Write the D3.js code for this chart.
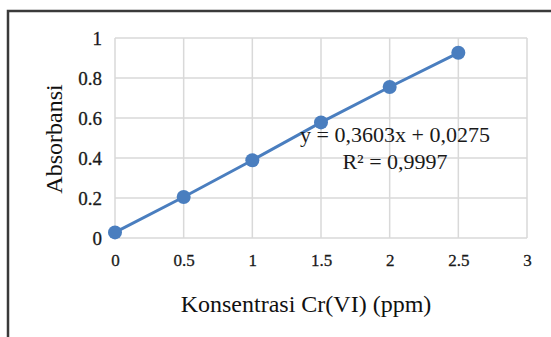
<!DOCTYPE html>
<html>
<head>
<meta charset="utf-8">
<script src="https://cdn.jsdelivr.net/npm/d3@7"></script>
<style>
  body { margin: 0; background: #fff; }
  svg { display: block; font-family: "Liberation Serif", "Times New Roman", serif; }
  .grid line { stroke: #d9d9d9; stroke-width: 1.5; }
  .axis text { font-family: "Liberation Serif", serif; fill: #1a1a1a; stroke: #1a1a1a; stroke-width: 0.3; }
</style>
</head>
<body>
<div id="chart"></div>
<script>
// data
var konsentrasi = [0, 0.5, 1, 1.5, 2, 2.5];
var absorbansi = [0.028, 0.205, 0.389, 0.578, 0.755, 0.926];
var xTicks = [0, 0.5, 1, 1.5, 2, 2.5, 3];
var xTickLabels = ["0", "0.5", "1", "1.5", "2", "2.5", "3"];
var yTicks = [0, 0.2, 0.4, 0.6, 0.8, 1];
var yTickLabels = ["0", "0.2", "0.4", "0.6", "0.8", "1"];
var equationLines = ["y = 0,3603x + 0,0275", "R\u00b2 = 0,9997"];

var width = 551, height = 337;
var plot = { left: 115, right: 527, top: 38, bottom: 238 };

var svg = d3.select("#chart").append("svg")
    .attr("width", width)
    .attr("height", height);

// outer frame (only top and left edges are visible in the crop)
svg.append("rect")
    .attr("x", 8)
    .attr("y", 11)
    .attr("width", width + 20)
    .attr("height", height + 20)
    .attr("fill", "none")
    .attr("stroke", "#3a3a3a")
    .attr("stroke-width", 2.5);

var x = d3.scaleLinear().domain([0, 3]).range([plot.left, plot.right]);
var y = d3.scaleLinear().domain([0, 1]).range([plot.bottom, plot.top]);

// gridlines
var grid = svg.append("g").attr("class", "grid");
grid.selectAll(".v").data(xTicks).enter().append("line")
    .attr("x1", function(d) { return x(d); })
    .attr("x2", function(d) { return x(d); })
    .attr("y1", plot.top)
    .attr("y2", plot.bottom);
grid.selectAll(".h").data(yTicks).enter().append("line")
    .attr("x1", plot.left)
    .attr("x2", plot.right)
    .attr("y1", function(d) { return y(d); })
    .attr("y2", function(d) { return y(d); });

// x axis labels
var xAxis = svg.append("g")
    .attr("class", "axis")
    .attr("transform", "translate(0," + plot.bottom + ")")
    .call(d3.axisBottom(x)
        .tickValues(xTicks)
        .tickSize(0)
        .tickPadding(16)
        .tickFormat(function(d, i) { return xTickLabels[i]; }));
xAxis.attr("font-size", 17);
xAxis.select(".domain").remove();

// y axis labels
var yAxis = svg.append("g")
    .attr("class", "axis")
    .attr("transform", "translate(" + plot.left + ",0)")
    .call(d3.axisLeft(y)
        .tickValues(yTicks)
        .tickSize(0)
        .tickPadding(13)
        .tickFormat(function(d, i) { return yTickLabels[i]; }));
yAxis.attr("font-size", 19);
yAxis.select(".domain").remove();

// data line + markers
var line = d3.line()
    .x(function(d, i) { return x(konsentrasi[i]); })
    .y(function(d) { return y(d); });

svg.append("path")
    .datum(absorbansi)
    .attr("fill", "none")
    .attr("stroke", "#4a7ebf")
    .attr("stroke-width", 3)
    .attr("d", line);

svg.selectAll(".pt").data(absorbansi).enter().append("circle")
    .attr("cx", function(d, i) { return x(konsentrasi[i]); })
    .attr("cy", function(d) { return y(d); })
    .attr("r", 7)
    .attr("fill", "#4a7ebf");

// trendline equation
svg.selectAll(".eq").data(equationLines).enter().append("text")
    .attr("x", 395)
    .attr("y", function(d, i) { return 142 + i * 27; })
    .attr("text-anchor", "middle")
    .style("font-size", "22px")
    .attr("fill", "#1a1a1a")
    .text(function(d) { return d; });

// axis titles
svg.append("text")
    .attr("x", 306)
    .attr("y", 312)
    .attr("text-anchor", "middle")
    .style("font-size", "24px")
    .attr("fill", "#111")
    .text("Konsentrasi Cr(VI) (ppm)");

svg.append("text")
    .attr("transform", "translate(62,139) rotate(-90)")
    .attr("text-anchor", "middle")
    .style("font-size", "24px")
    .attr("fill", "#111")
    .text("Absorbansi");
</script>
</body>
</html>
